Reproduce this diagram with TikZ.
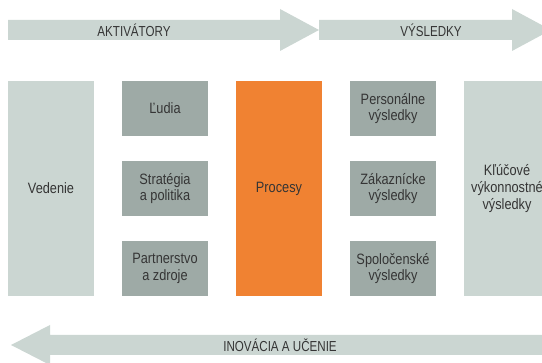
\documentclass[tikz,border=0pt]{standalone}
\usepackage{fontspec}
\setmainfont{Liberation Sans}[FakeStretch=0.85]
\newfontfamily\capsfont{Liberation Sans}[FakeStretch=0.8]
\definecolor{lightbox}{HTML}{CBD6D2}
\definecolor{darkbox}{HTML}{9EAAA6}
\definecolor{orangebox}{HTML}{F08232}
\definecolor{txt}{HTML}{353535}
\tikzset{
  box/.style={inner sep=0pt, minimum width=86pt, align=center, text=txt,
    font=\fontsize{15}{16.8}\selectfont},
  tall/.style={box, minimum height=215pt},
  small/.style={box, minimum height=55pt, fill=darkbox},
  bigarrow/.style={fill=lightbox},
  arrowlabel/.style={text=txt, inner sep=0pt, font=\capsfont\fontsize{14.5}{16}\selectfont}
}
\begin{document}
\begin{tikzpicture}[x=1pt,y=-1pt]
\useasboundingbox (0,0) rectangle (542,363);
\clip (0,0) rectangle (542,363);
% arrows
\fill[bigarrow] (8,20) -- (280,20) -- (280,9) -- (319,30) -- (280,51) -- (280,40) -- (8,40) -- cycle;
\fill[bigarrow] (319,20) -- (512,20) -- (512,9) -- (551,30) -- (512,51) -- (512,40) -- (319,40) -- cycle;
\fill[bigarrow] (560,335) -- (50,335) -- (50,325) -- (11,345) -- (50,365) -- (50,355) -- (560,355) -- cycle;
\node[arrowlabel] (akt) at (134,30) {AKTIVÁTORY};
\node[arrowlabel] (vys) at (431,30) {VÝSLEDKY};
\node[arrowlabel] (ino) at (280,345) {INOVÁCIA A UČENIE};
% boxes
\node[tall, fill=lightbox] (ved) at (51,188.5) {Vedenie};
\node[small] (lud) at (165,108.5) {Ľudia};
\node[small] (str) at (165,188.5) {Stratégia\\a politika};
\node[small] (par) at (165,268.5) {Partnerstvo\\a zdroje};
\node[tall, fill=orangebox] (pro) at (279,188.5) {Procesy};
\node[small] (per) at (393,108.5) {Personálne\\výsledky};
\node[small] (zak) at (393,188.5) {Zákaznícke\\výsledky};
\node[small] (spo) at (393,268.5) {Spoločenské\\výsledky};
\node[tall, fill=lightbox] (klu) at (507,188.5) {Kľúčové\\výkonnostné\\výsledky};
\end{tikzpicture}
\end{document}
